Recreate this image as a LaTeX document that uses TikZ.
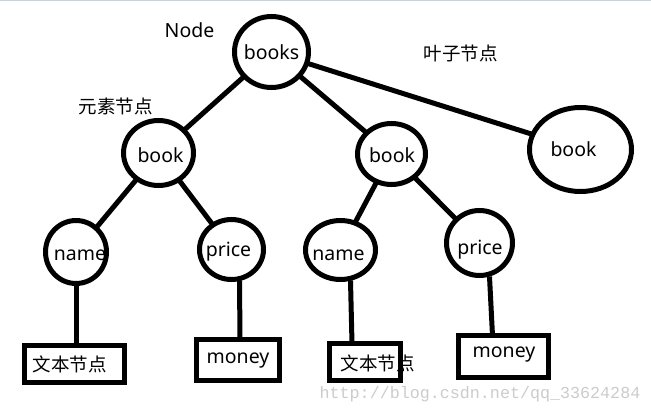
\documentclass[tikz,border=0pt]{standalone}
\usepackage{fontspec}
\setmainfont{Noto Sans}
\newfontfamily\cjk{Noto Sans CJK SC}
\newfontfamily\wmfont{Liberation Mono}
\usetikzlibrary{shapes.geometric}
\definecolor{topline}{RGB}{200,210,225}
\begin{document}
\begin{tikzpicture}[x=1pt,y=-1pt,
  every node/.style={inner sep=0pt, outer sep=0pt},
  circ/.style={ellipse, draw, line width=5pt},
  box/.style={rectangle, draw, line width=5pt},
  link/.style={line width=5pt},
  lbl/.style={font=\fontsize{19.5}{19.5}\selectfont},
  cjklbl/.style={font=\cjk\fontsize{18.5}{18.5}\selectfont},
  wm/.style={font=\wmfont\fontsize{16.7}{16.7}\selectfont, text=black!20}]
\fill[white] (0,0) rectangle (651,415);
\useasboundingbox (0,0) rectangle (651,415);
\draw[topline, line width=1.2pt] (0,0.6) -- (651,0.6);

% circles
\node[circ, minimum width=74pt, minimum height=71pt,
  label={[lbl]center:books}] (books) at (271.5,52) {};
\node[circ, minimum width=70pt, minimum height=65pt,
  label={[lbl,xshift=2pt,yshift=-2pt]center:book}] (book1) at (158.5,153) {};
\node[circ, minimum width=68pt, minimum height=61pt,
  label={[lbl,xshift=0.5pt,yshift=-1pt]center:book}] (book2) at (391.5,154) {};
\node[circ, minimum width=102pt, minimum height=84pt,
  label={[lbl,xshift=-7pt]center:book}] (book3) at (580.5,149.5) {};
\node[circ, minimum width=61pt, minimum height=63pt,
  label={[lbl,xshift=4pt,yshift=-3pt]center:name}] (name1) at (76,252) {};
\node[circ, minimum width=64pt, minimum height=60pt,
  label={[lbl,xshift=-3pt,yshift=-2.5pt]center:price}] (price1) at (231.5,249.5) {};
\node[circ, minimum width=70pt, minimum height=59pt,
  label={[lbl,xshift=-2pt,yshift=-5pt]center:name}] (name2) at (340.5,250) {};
\node[circ, minimum width=66pt, minimum height=65pt,
  label={[lbl,xshift=0.5pt,yshift=-7pt]center:price}] (price2) at (479.5,243) {};

% boxes
\node[box, minimum width=100pt, minimum height=37pt,
  label={[cjklbl,xshift=-5pt]center:文本节点}] (rect1) at (74.5,364) {};
\node[box, minimum width=83pt, minimum height=41pt,
  label={[lbl,yshift=-1pt]center:money}] (rect2) at (238,360) {};
\node[box, minimum width=71pt, minimum height=37pt,
  label={[cjklbl,xshift=12.5pt,yshift=-1pt]center:文本节点}] (rect3) at (365,362) {};
\node[box, minimum width=90pt, minimum height=42pt,
  label={[lbl,xshift=0.5pt,yshift=2pt]center:money}] (rect4) at (503.5,356.5) {};

% labels
\node[lbl] (nodelbl) at (189.5,30) {Node};
\node[cjklbl] (elemlbl) at (115.5,106) {元素节点};
\node[cjklbl] (leaflbl) at (460.5,53) {叶子节点};

% connectors
\draw[link] (books) -- (book1);
\draw[link] (books) -- (book2);
\draw[link] (books) -- (book3);
\draw[link] (book1) -- (name1);
\draw[link] (book1) -- (price1);
\draw[link] (book2) -- (name2);
\draw[link] (book2) -- (price2);
\draw[link] (name1.south) -- (name1.south |- rect1.north);
\draw[link] ([xshift=8pt,yshift=-1pt]price1.south) -- ([xshift=2pt]rect2.north);
\draw[link] ([xshift=10pt,yshift=-1pt]name2.south) -- ([xshift=-13pt]rect3.north);
\draw[link] ([xshift=10pt,yshift=-1pt]price2.south) -- ([xshift=-11pt]rect4.north);

% watermark
\node[wm] (wmark) at (480,394) {http://blog.csdn.net/qq\_33624284};
\end{tikzpicture}
\end{document}
